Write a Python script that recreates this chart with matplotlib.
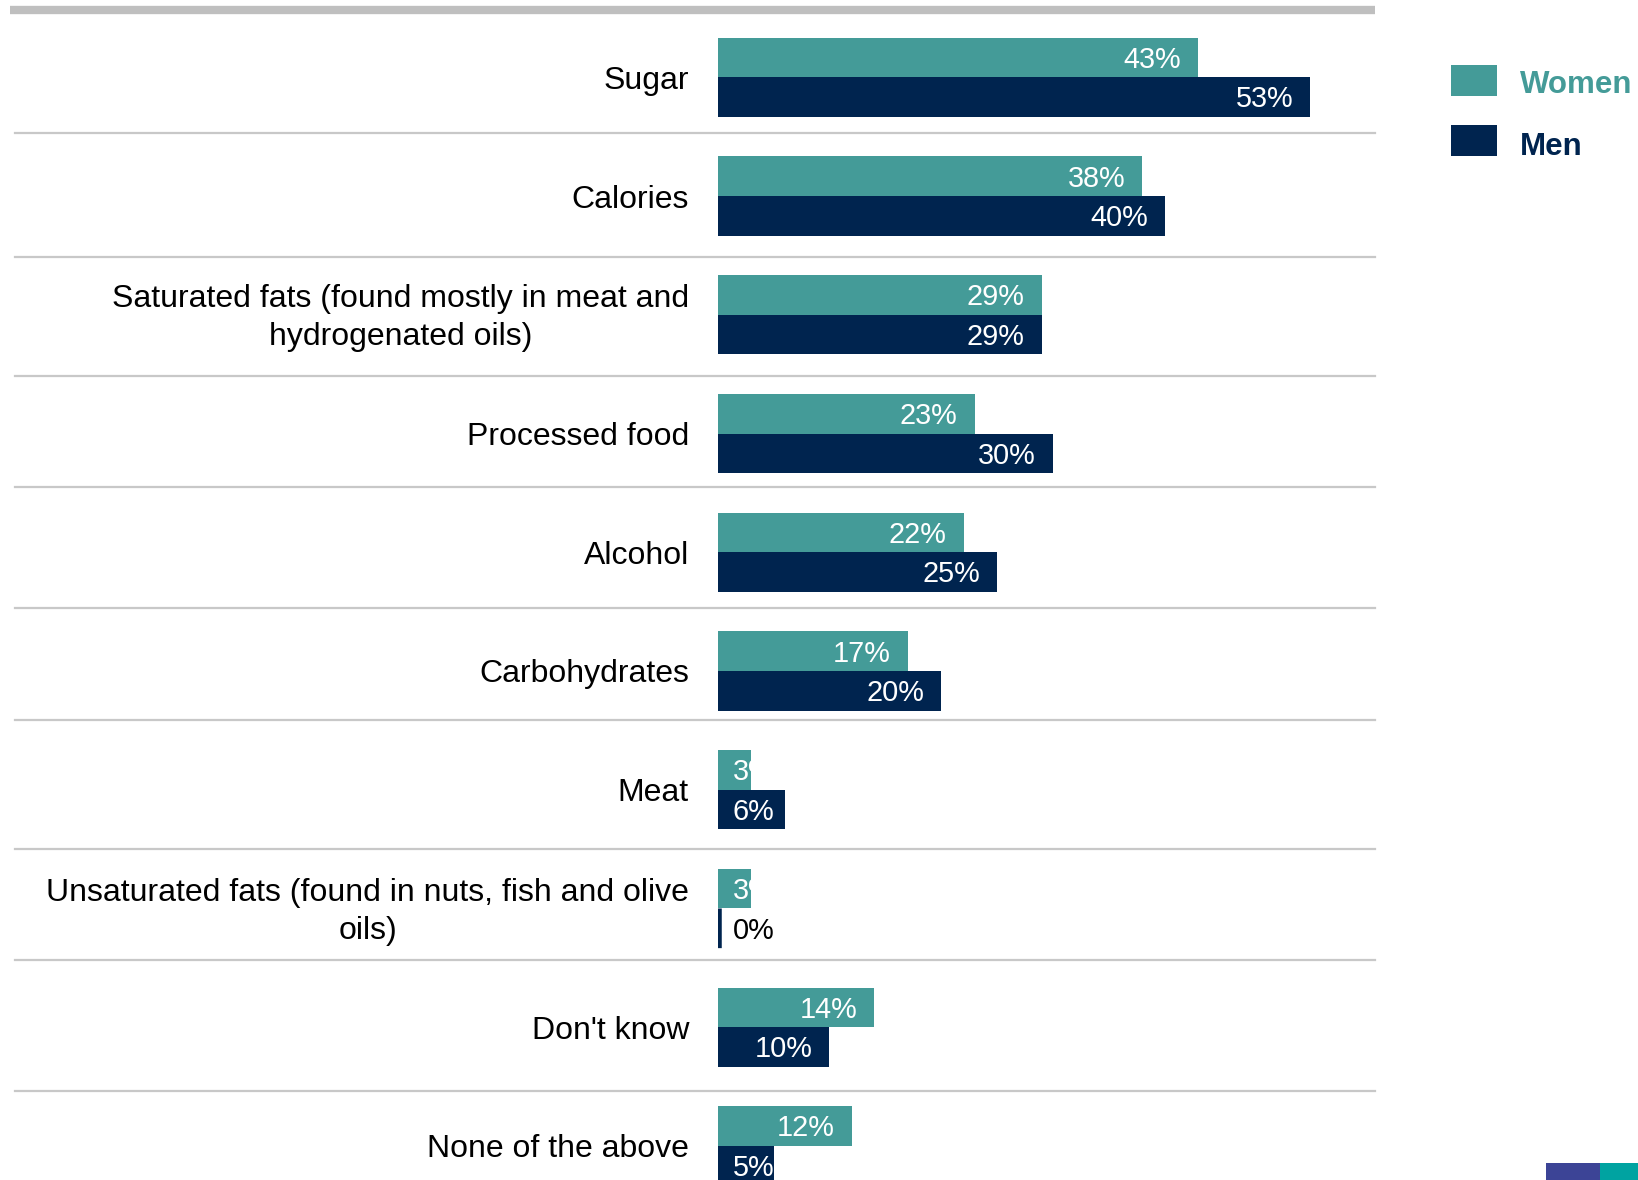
import matplotlib
matplotlib.use("Agg")
import matplotlib.pyplot as plt
from matplotlib.lines import Line2D
from matplotlib.patches import Rectangle
from matplotlib import transforms

plt.rcParams['font.family'] = ['Liberation Sans', 'DejaVu Sans']

# ---- data -------------------------------------------------------------
categories = [
    "Sugar",
    "Calories",
    "Saturated fats (found mostly in meat and\nhydrogenated oils)",
    "Processed food",
    "Alcohol",
    "Carbohydrates",
    "Meat",
    "Unsaturated fats (found in nuts, fish and olive\noils)",
    "Don't know",
    "None of the above",
]
women = [43, 38, 29, 23, 22, 17, 3, 3, 14, 12]
men = [53, 40, 29, 30, 25, 20, 6, 0, 10, 5]
series_names = ["Women", "Men"]

# ---- style ------------------------------------------------------------
TEAL = "#449B98"
NAVY = "#00244F"
SEP = "#C8C8C8"
W_PX, H_PX = 1638, 1180
DPI = 100
VAL_FS = 20.8

fig = plt.figure(figsize=(W_PX / DPI, H_PX / DPI), dpi=DPI)
fig.patch.set_facecolor("white")

ax_left, ax_right = 717.6, 1375.0
ax = fig.add_axes([ax_left / W_PX, 0.0, (ax_right - ax_left) / W_PX, 1.0])
ax.set_xlim(0, 58.8)
row_top, row_step = 77.3, 118.74
ax.set_ylim((H_PX - row_top) / row_step, -row_top / row_step)
ax.axis("off")

bar_h = 0.334
ys = list(range(len(categories)))

w_bars = ax.barh([y - bar_h for y in ys], women, height=bar_h, align="edge",
                 color=TEAL, edgecolor="none")
m_bars = ax.barh(ys, men, height=bar_h, align="edge",
                 color=NAVY, edgecolor="none")
# a zero-valued bar still shows as a thin stroke at the baseline
# (the half of the stroke left of zero is clipped by the axes)
for bar, v in zip(m_bars, men):
    if v == 0:
        bar.set_edgecolor(NAVY)
        bar.set_linewidth(6)
        bar.set_joinstyle("miter")
        bar.set_snap(False)

# digits are vertically centred on the bar: baseline sits half a cap height below
cap_half = VAL_FS * DPI / 72 * 0.716 / 2
right_pad = transforms.ScaledTranslation(-17 / DPI, -cap_half / DPI, fig.dpi_scale_trans)
left_pad = transforms.ScaledTranslation(15 / DPI, -cap_half / DPI, fig.dpi_scale_trans)


def label_bars(bars, values):
    for bar, v in zip(bars, values):
        yc = bar.get_y() + bar.get_height() / 2
        txt = f"{v}%"
        if v == 0:
            ax.text(0, yc, txt, transform=ax.transData + left_pad,
                    ha="left", va="baseline", fontsize=VAL_FS, color="black")
        elif v < 8:
            t = ax.text(0, yc, txt, transform=ax.transData + left_pad,
                        ha="left", va="baseline", fontsize=VAL_FS, color="white")
            t.set_clip_path(bar)
        else:
            t = ax.text(v, yc, txt, transform=ax.transData + right_pad,
                        ha="right", va="baseline", fontsize=VAL_FS, color="white")
            t.set_clip_path(bar)


label_bars(w_bars, women)
label_bars(m_bars, men)

# category labels, right-aligned to the left of the bars
lab_tr = transforms.blended_transform_factory(fig.transFigure, ax.transData) + \
    transforms.ScaledTranslation(0, -3.5 / DPI, fig.dpi_scale_trans)
for y, name in zip(ys, categories):
    ax.text(689 / W_PX, y, name, transform=lab_tr, ha="right", va="center",
            multialignment="center", fontsize=23, color="black",
            linespacing=1.36, clip_on=False)

# table rules
fig.add_artist(Line2D([10 / W_PX, 1375 / W_PX], [1 - 10 / H_PX] * 2,
                      transform=fig.transFigure, color="#BFBFBF", lw=6,
                      solid_capstyle="butt"))
for yp in [132.6, 257.4, 375.8, 487.4, 608.4, 719.9, 848.7, 960.3, 1090.5]:
    fig.add_artist(Line2D([15 / W_PX, 1375 / W_PX], [1 - yp / H_PX] * 2,
                          transform=fig.transFigure, color=SEP, lw=1.6))

# legend: swatch top edge and text baseline (pixels from the top)
for (name, col, top, base) in [(series_names[0], TEAL, 65, 92.7),
                               (series_names[1], NAVY, 125, 155.0)]:
    fig.add_artist(Rectangle((1451 / W_PX, 1 - (top + 31) / H_PX),
                             46 / W_PX, 31 / H_PX, transform=fig.transFigure,
                             facecolor=col, edgecolor="none"))
    fig.text(1520 / W_PX, 1 - base / H_PX, name, ha="left", va="baseline",
             fontsize=22.5, fontweight="bold", color=col)

# corner logo fragment
fig.add_artist(Rectangle((1546 / W_PX, 0), 54 / W_PX, 17 / H_PX,
                         transform=fig.transFigure, facecolor="#3C4496",
                         edgecolor="none"))
fig.add_artist(Rectangle((1600 / W_PX, 0), 38 / W_PX, 17 / H_PX,
                         transform=fig.transFigure, facecolor="#00A3A1",
                         edgecolor="none"))

fig.savefig("out.png", dpi=DPI, facecolor="white")
